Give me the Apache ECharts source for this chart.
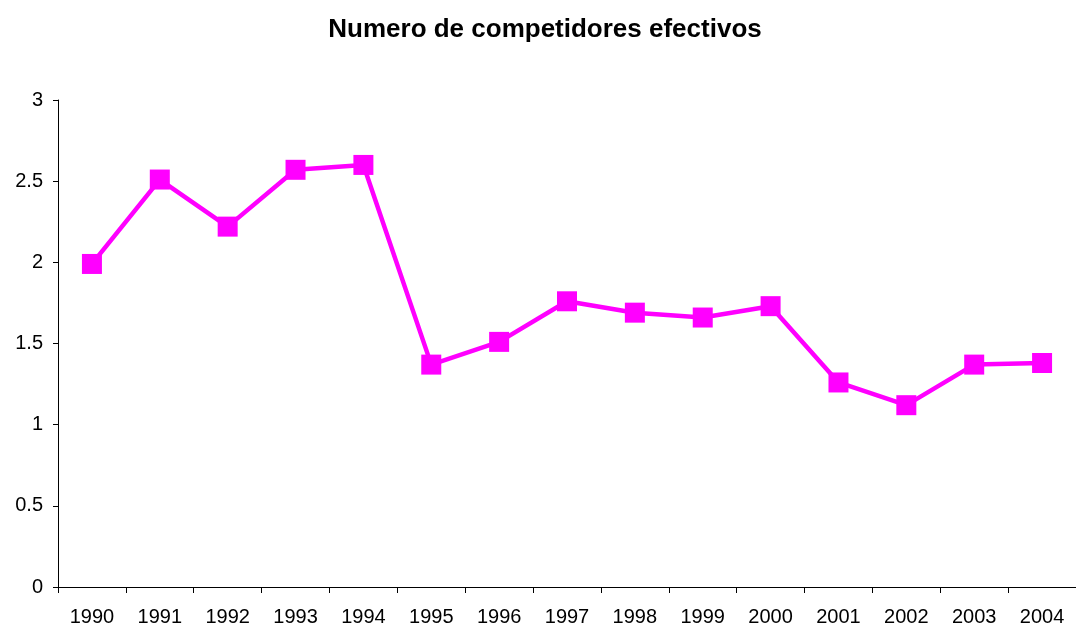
<!DOCTYPE html>
<html>
<head>
<meta charset="utf-8">
<script src="https://cdn.jsdelivr.net/npm/echarts@6/dist/echarts.min.js"></script>
<style>
    html, body { margin: 0; padding: 0; background: #fff; }
    #chart { width: 1076px; height: 628px; }
</style>
</head>
<body>
<div id="chart"></div>
<script>
    // años y valores
    let years = ['1990','1991','1992','1993','1994','1995','1996','1997','1998','1999','2000','2001','2002','2003','2004'];
    let competidores = [1.99, 2.51, 2.22, 2.57, 2.6, 1.37, 1.51, 1.76, 1.69, 1.66, 1.73, 1.26, 1.12, 1.37, 1.38];
    let yTicks = [0, 0.5, 1, 1.5, 2, 2.5, 3];

    let myChart = echarts.init(document.getElementById('chart'));
    let font = 'Liberation Sans, Arial, sans-serif';

    let option = {
        animation: false,
        backgroundColor: '#fff',
        title: {
            text: 'Numero de competidores efectivos',
            left: 540,
            textAlign: 'center',
            top: 12,
            textStyle: { fontFamily: font, fontSize: 26, fontWeight: 'bold', color: '#000' }
        },
        grid: { left: 58, top: 100, width: 1024, height: 487 },
        xAxis: {
            type: 'category',
            data: years,
            boundaryGap: true,
            axisLine: { lineStyle: { color: '#000', width: 1 } },
            axisTick: { show: true, length: 6, alignWithLabel: false, lineStyle: { color: '#000' } },
            axisLabel: { fontFamily: font, fontSize: 20, color: '#000', margin: 20, interval: 0 },
            splitLine: { show: false }
        },
        yAxis: {
            type: 'value',
            min: yTicks[0],
            max: yTicks[yTicks.length - 1],
            interval: 0.5,
            axisLine: { show: true, lineStyle: { color: '#000', width: 1 } },
            axisTick: { show: true, length: 5, lineStyle: { color: '#000' } },
            axisLabel: { fontFamily: font, fontSize: 20, color: '#000', margin: 15 },
            splitLine: { show: false }
        },
        series: [{
            name: 'Numero de competidores efectivos',
            type: 'line',
            data: competidores,
            symbol: 'rect',
            symbolSize: 20,
            lineStyle: { color: '#ff00ff', width: 4.5 },
            itemStyle: { color: '#ff00ff' }
        }]
    };

    myChart.setOption(option);
</script>
</body>
</html>
